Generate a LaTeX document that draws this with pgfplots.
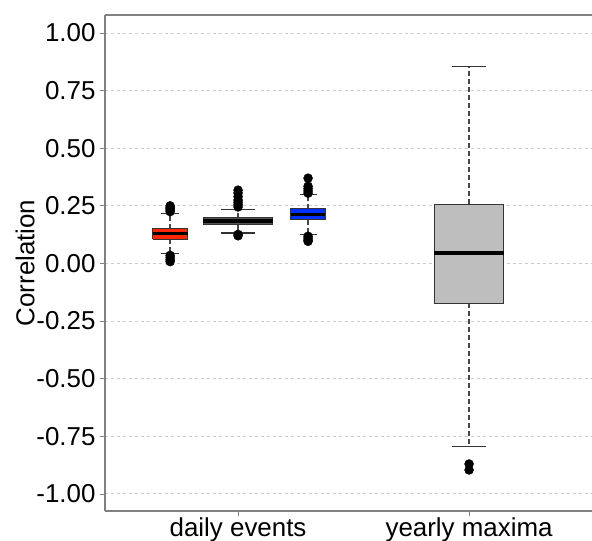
\documentclass[border=0pt]{standalone}
\usepackage{fontspec}
\setmainfont{Liberation Sans}
\usepackage{pgfplots}
\pgfplotsset{compat=1.18}

\definecolor{boxred}{RGB}{255,38,0}
\definecolor{boxblue}{RGB}{0,48,255}
\definecolor{boxdark}{RGB}{85,85,85}
\definecolor{boxlight}{RGB}{190,190,190}
\definecolor{edge}{RGB}{51,51,51}
\definecolor{framegray}{RGB}{128,128,128}

\pgfplotsset{
  whisk/.style={color=edge!90, line width=1.3bp, dash pattern=on 5bp off 3bp},
  cap/.style={color=edge, line width=1.1bp},
  boxst/.style={draw=edge, line width=1bp},
  med/.style={black, line width=3.2bp},
  outl/.style={only marks, mark=*, mark size=4.5bp, black},
}

\begin{document}
\begin{tikzpicture}
\begin{axis}[
  scale only axis,
  width=487bp, height=496bp,
  xmin=0.424, xmax=2.532,
  ymin=-1.074, ymax=1.078,
  axis lines=left,
  axis line style={-, framegray, line width=1.2bp},
  tick align=outside,
  major tick length=5bp,
  tick style={framegray, line width=0.8bp},
  xtick={1,2},
  xticklabels={daily events, yearly maxima},
  ytick={-1,-0.75,-0.5,-0.25,0,0.25,0.5,0.75,1},
  yticklabels={-1.00,-0.75,-0.50,-0.25,0.00,0.25,0.50,0.75,1.00},
  tick label style={font=\fontsize{26}{30}\selectfont},
  xticklabel style={yshift=2bp},
  yticklabel style={xshift=-1bp},
  ymajorgrids,
  major grid style={gray!40, line width=0.9bp, dash pattern=on 3bp off 3bp},
  ylabel={Correlation},
  ylabel style={at={(axis description cs:-0.164,0.5)}, rotate=0, anchor=center,
    font=\fontsize{26}{30}\selectfont},
]
% ---- daily events, red (x=0.706)
\addplot[whisk] coordinates {(0.706,0.151) (0.706,0.216)};
\addplot[whisk] coordinates {(0.706,0.104) (0.706,0.042)};
\addplot[cap] coordinates {(0.668,0.216) (0.744,0.216)};
\addplot[cap] coordinates {(0.668,0.042) (0.744,0.042)};
\addplot[boxst, fill=boxred] coordinates {(0.630,0.104) (0.782,0.104) (0.782,0.151) (0.630,0.151) (0.630,0.104)};
\addplot[med] coordinates {(0.630,0.129) (0.782,0.129)};
\addplot[outl] coordinates {(0.706,0.225) (0.706,0.232) (0.706,0.238) (0.706,0.244) (0.706,0.250)
  (0.706,0.035) (0.706,0.025) (0.706,0.016) (0.706,0.008)};
% ---- daily events, dark gray (x=1.0)
\addplot[whisk] coordinates {(1.0,0.199) (1.0,0.235)};
\addplot[whisk] coordinates {(1.0,0.168) (1.0,0.132)};
\addplot[cap] coordinates {(0.925,0.235) (1.075,0.235)};
\addplot[cap] coordinates {(0.925,0.132) (1.075,0.132)};
\addplot[boxst, fill=boxdark] coordinates {(0.85,0.168) (1.15,0.168) (1.15,0.199) (0.85,0.199) (0.85,0.168)};
\addplot[med] coordinates {(0.85,0.184) (1.15,0.184)};
\addplot[outl] coordinates {(1.0,0.245) (1.0,0.255) (1.0,0.265) (1.0,0.275) (1.0,0.290) (1.0,0.305) (1.0,0.318)
  (1.0,0.126) (1.0,0.120)};
% ---- daily events, blue (x=1.303)
\addplot[whisk] coordinates {(1.303,0.238) (1.303,0.300)};
\addplot[whisk] coordinates {(1.303,0.190) (1.303,0.126)};
\addplot[cap] coordinates {(1.266,0.300) (1.340,0.300)};
\addplot[cap] coordinates {(1.266,0.126) (1.340,0.126)};
\addplot[boxst, fill=boxblue] coordinates {(1.229,0.190) (1.377,0.190) (1.377,0.238) (1.229,0.238) (1.229,0.190)};
\addplot[med] coordinates {(1.229,0.213) (1.377,0.213)};
\addplot[outl] coordinates {(1.303,0.305) (1.303,0.315) (1.303,0.325) (1.303,0.335) (1.303,0.370)
  (1.303,0.118) (1.303,0.110) (1.303,0.102) (1.303,0.096)};
% ---- yearly maxima (x=2.0)
\addplot[whisk] coordinates {(2.0,0.257) (2.0,0.854)};
\addplot[whisk] coordinates {(2.0,-0.173) (2.0,-0.794)};
\addplot[cap] coordinates {(1.925,0.854) (2.075,0.854)};
\addplot[cap] coordinates {(1.925,-0.794) (2.075,-0.794)};
\addplot[boxst, fill=boxlight] coordinates {(1.85,-0.173) (2.15,-0.173) (2.15,0.257) (1.85,0.257) (1.85,-0.173)};
\addplot[med] coordinates {(1.85,0.045) (2.15,0.045)};
\addplot[outl] coordinates {(2.0,-0.870) (2.0,-0.896)};
\draw[framegray, line width=1.2bp] (rel axis cs:0,1) -- (rel axis cs:1,1);
\end{axis}
\pgfresetboundingbox
\useasboundingbox (-105bp,-30bp) rectangle (487bp,511bp);
\end{tikzpicture}
\end{document}
